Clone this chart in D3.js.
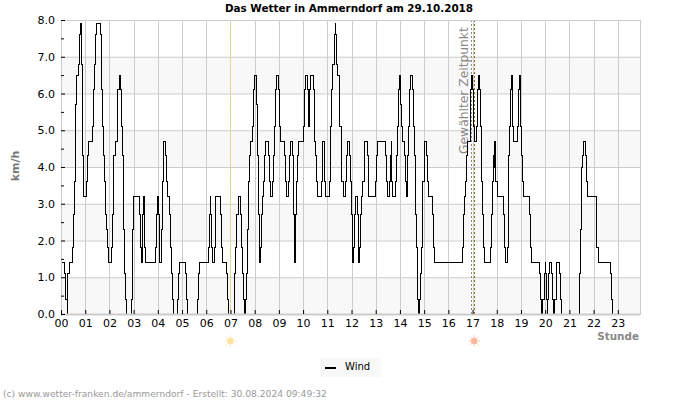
<!DOCTYPE html>
<html>
<head>
<meta charset="utf-8">
<script src="https://cdn.jsdelivr.net/npm/d3@7"></script>
<style>
  html, body { margin: 0; padding: 0; background: #fff; }
  svg { display: block; font-family: "DejaVu Sans", sans-serif; }
</style>
</head>
<body>
<svg width="700" height="400"></svg>
<script>
// change points of the wind trace: minutes since midnight, km/h
var minutes = [
  0, 9, 11, 15, 16, 17, 20, 29, 31, 34, 35, 36, 39, 44, 46, 48, 50, 51, 53, 54, 57, 64, 65, 67, 78, 80, 82, 85, 88, 98,
  100, 101, 104, 106, 109, 111, 113, 115, 118, 125, 127, 130, 131, 134, 139, 141, 144, 147, 149, 152, 154, 156, 158, 160, 162,
  175, 177, 178, 179, 195, 197, 200, 201, 203, 205, 206, 208, 210, 235, 237, 239, 241, 243, 244, 249, 252, 253, 255, 260, 262,
  265, 270, 272, 275, 277, 280, 288, 290, 293, 309, 311, 314, 338, 341, 343, 365, 367, 370, 371, 373, 375, 380, 382, 384, 395,
  398, 400, 410, 413, 415,
  429, 431, 433, 436, 439, 445, 447, 450, 452, 455, 458, 459, 462, 464, 467, 469, 474, 477, 479, 484, 487, 489, 492, 493, 495,
  497, 500, 502, 505, 508, 515, 517, 520, 525, 527, 530, 532, 535, 539, 542, 544, 554, 557, 559, 564, 567, 569, 574, 576, 577,
  578, 579, 580, 582, 584, 586, 588, 600, 603, 605, 611, 614, 617, 619, 625, 628, 630, 633, 635, 645, 648, 649, 652, 654, 656,
  665, 667, 669, 671, 674, 677, 680, 681, 683, 685, 689, 691, 694, 696, 699, 704, 707, 709, 714, 717, 719, 722, 723, 725, 728,
  730, 734, 737, 738, 740, 742, 745, 748, 751, 753, 759, 761, 763, 780, 782, 784, 804, 806, 808, 814, 817, 818, 820, 822, 828,
  831, 833, 836, 838, 840, 841, 844, 846, 851, 854, 856, 859, 861, 864, 866, 871, 874, 876, 879, 881, 883, 884, 886, 888, 890,
  893, 895, 897, 900, 902,
  906, 908, 911, 921, 923, 925, 995, 997, 1000, 1002, 1005, 1008, 1014, 1015, 1018, 1020, 1022, 1024, 1029, 1032, 1034, 1036, 1039, 1041, 1043,
  1045, 1048, 1050, 1065, 1067, 1070, 1072, 1073, 1075, 1076, 1078, 1081, 1097, 1099, 1101, 1106, 1108, 1109, 1112, 1114, 1117, 1119, 1120, 1122, 1132,
  1133, 1136, 1138, 1140, 1142, 1145, 1147, 1161, 1164, 1166, 1185, 1188, 1191, 1194, 1198, 1200, 1202, 1204, 1205, 1206, 1208, 1210, 1215, 1218, 1220,
  1224, 1227, 1229, 1235, 1237, 1240, 1284, 1286, 1288, 1291, 1293, 1295, 1300, 1302, 1305, 1326, 1328, 1331, 1361, 1364, 1366
];
var wind = [
  1.4, 1.1, 0.4, 0, 0.4, 1.1, 1.4, 1.8, 2.7, 3.6, 4.3, 5.7, 6.5, 6.8, 7.6, 7.9, 7.6, 6.8, 5.7, 4.3, 3.2, 3.6, 4.3, 4.7, 5.1, 6.1, 6.8, 7.6, 7.9, 7.6,
  6.8, 6.1, 5.1, 4.3, 3.6, 2.7, 2.3, 1.8, 1.4, 1.8, 2.7, 3.6, 4.3, 4.7, 5.1, 6.1, 6.5, 6.1, 5.1, 4.3, 3.6, 2.3, 1.1, 0.4, 0,
  0.4, 1.1, 2.3, 3.2, 2.7, 1.8, 1.4, 1.8, 2.7, 3.2, 2.7, 1.8, 1.4, 1.8, 2.7, 3.2, 2.7, 1.8, 1.4, 2.3, 3.6, 4.3, 4.7, 4.3, 3.6,
  3.2, 2.7, 1.8, 1.1, 0.4, 0, 0.4, 1.1, 1.4, 1.1, 0.4, 0, 0.4, 1.1, 1.4, 1.8, 2.7, 3.2, 2.7, 1.8, 1.4, 1.8, 2.7, 3.2, 2.7,
  1.8, 1.4, 1.1, 0.4, 0,
  0.4, 1.1, 1.8, 2.7, 3.2, 2.7, 1.8, 1.1, 0.4, 0, 0.4, 1.1, 2.3, 3.6, 4.3, 4.7, 5.1, 6.1, 6.5, 5.7, 4.3, 2.7, 1.8, 1.4, 1.8,
  2.7, 3.2, 3.6, 4.3, 4.7, 4.3, 3.6, 3.2, 3.6, 4.3, 5.1, 6.1, 6.5, 6.1, 5.1, 4.7, 4.3, 3.6, 3.2, 3.6, 4.3, 4.7, 4.3, 3.6, 2.7,
  1.8, 1.4, 1.8, 2.7, 3.6, 4.3, 4.7, 5.1, 6.1, 6.5, 6.1, 5.1, 6.1, 6.5, 6.1, 4.7, 4.3, 3.6, 3.2, 3.6, 4.3, 4.7, 4.3, 3.6, 3.2,
  3.6, 4.3, 5.1, 6.1, 6.8, 7.6, 7.9, 7.6, 6.8, 6.5, 5.7, 5.1, 4.3, 3.6, 3.2, 3.6, 4.3, 4.7, 4.3, 3.6, 2.7, 1.8, 1.4, 1.8, 2.7,
  3.2, 2.7, 1.8, 1.4, 1.8, 2.7, 3.2, 3.6, 4.3, 4.7, 4.3, 3.6, 3.2, 3.6, 4.3, 4.7, 4.3, 3.6, 3.2, 3.6, 4.3, 4.7, 3.6, 3.2, 3.6,
  4.3, 5.1, 6.1, 6.3, 6.5, 5.7, 5.1, 4.7, 4.3, 3.6, 3.2, 4.3, 5.1, 6.1, 6.5, 6.1, 5.1, 4.3, 2.7, 1.8, 1.1, 0.4, 0, 0.4, 1.1,
  1.8, 2.7, 3.6, 4.3, 4.7,
  4.3, 3.6, 3.2, 2.7, 1.8, 1.4, 1.8, 2.7, 3.2, 3.6, 4.3, 4.7, 5.1, 6.1, 6.5, 6.1, 5.1, 4.7, 5.1, 6.1, 6.5, 6.1, 5.1, 4.3, 3.6,
  2.7, 1.8, 1.4, 1.8, 2.7, 3.6, 4.3, 4.0, 4.7, 4.0, 3.6, 3.2, 2.7, 1.8, 1.4, 1.8, 3.2, 4.3, 5.1, 6.1, 6.5, 6.1, 5.1, 4.7, 5.1,
  6.1, 6.5, 6.1, 5.1, 4.3, 3.6, 3.2, 2.7, 1.8, 1.4, 1.1, 0.4, 0, 0.4, 1.1, 1.4, 1.1, 0.4, 0, 0.4, 1.1, 1.4, 1.1, 0.4, 0,
  0.4, 1.1, 1.4, 1.1, 0.4, 0, 0.4, 1.1, 2.3, 4.0, 4.3, 4.7, 4.3, 3.6, 3.2, 2.7, 1.8, 1.4, 1.1, 0.4, 0
];
var hourLabels = ['00','01','02','03','04','05','06','07','08','09','10','11','12','13','14','15','16','17','18','19','20','21','22','23'];
var yTicks = [0, 0.5, 1, 1.5, 2, 2.5, 3, 3.5, 4, 4.5, 5, 5.5, 6, 6.5, 7, 7.5, 8];
var bands = [[0, 1], [2, 3], [4, 5], [6, 7]];
var sunrise = 420, sunset = 1024, selected = 1015;

var svg = d3.select('svg');
var padding = {t: 20, r: 60, b: 86, l: 61};

var x = d3.scaleLinear().domain([0, 1435]).range([padding.l, 640]);
var y = d3.scaleLinear().domain([0, 8]).range([314, padding.t]);

// bands + grid
svg.selectAll('.band').data(bands).enter().append('rect')
    .attr('x', x(0)).attr('width', x(1435) - x(0))
    .attr('y', function (d) { return y(d[1]); })
    .attr('height', function (d) { return y(d[0]) - y(d[1]); })
    .attr('fill', '#f8f8f8');

svg.selectAll('.hgrid').data(d3.range(0, 9)).enter().append('line')
    .attr('x1', x(0)).attr('x2', x(1435))
    .attr('y1', function (d) { return y(d) + 0.5; }).attr('y2', function (d) { return y(d) + 0.5; })
    .attr('stroke', '#cccccc');

svg.selectAll('.vgrid').data(hourLabels).enter().append('line')
    .attr('x1', function (d, i) { return Math.round(x(i * 60)) + 0.5; })
    .attr('x2', function (d, i) { return Math.round(x(i * 60)) + 0.5; })
    .attr('y1', y(8)).attr('y2', y(0))
    .attr('stroke', '#cccccc');

// marker lines
svg.append('line').attr('x1', x(sunrise)).attr('x2', x(sunrise)).attr('y1', y(8)).attr('y2', y(0))
    .attr('stroke', '#f0e27a').attr('stroke-dasharray', '2,1');
svg.append('line').attr('x1', Math.round(x(selected)) + 0.5).attr('x2', Math.round(x(selected)) + 0.5).attr('y1', y(8)).attr('y2', y(0))
    .attr('stroke', '#888').attr('stroke-dasharray', '2,2');
svg.append('line').attr('x1', Math.round(x(sunset)) + 0.5).attr('x2', Math.round(x(sunset)) + 0.5).attr('y1', y(8)).attr('y2', y(0))
    .attr('stroke', '#9a6a1a').attr('stroke-dasharray', '2,2');

svg.append('text')
    .attr('transform', 'translate(' + (x(selected) - 3) + ',154) rotate(-90)')
    .attr('font-size', 12.3).attr('fill', '#888')
    .text('Gewählter Zeitpunkt');

// wind trace
var line = d3.line()
    .x(function (d) { return x(d[0]); })
    .y(function (d) { return y(d[1]); })
    .curve(d3.curveStepAfter);

svg.append('path')
    .datum(minutes.map(function (m, i) { return [m, wind[i]]; }))
    .attr('d', line)
    .attr('fill', 'none')
    .attr('stroke', '#000')
    .attr('stroke-width', 1)
    .attr('shape-rendering', 'crispEdges');

// frame sits over the trace, so zero stretches stay hidden
svg.append('rect')
    .attr('x', x(0) + 0.5).attr('y', y(8) + 0.5)
    .attr('width', x(1435) - x(0)).attr('height', y(0) - y(8))
    .attr('fill', 'none').attr('stroke', '#cccccc');
svg.append('line')
    .attr('x1', x(0)).attr('x2', x(1435)).attr('y1', y(0) + 0.5).attr('y2', y(0) + 0.5)
    .attr('stroke', '#cccccc').attr('stroke-width', 2);

// axes
var xAxis = d3.axisBottom(x)
    .tickValues(hourLabels.map(function (d, i) { return i * 60; }))
    .tickFormat(function (d, i) { return hourLabels[i]; })
    .tickSizeInner(-4).tickSizeOuter(0).tickPadding(5);
var gx = svg.append('g').attr('transform', 'translate(0,' + y(0) + ')').call(xAxis);
gx.select('.domain').remove();
gx.selectAll('text').attr('font-size', 11).attr('font-family', '"DejaVu Sans"').attr('fill', '#000');

var yAxis = d3.axisLeft(y)
    .tickValues(yTicks)
    .tickFormat(function (d) { return d % 1 === 0 ? d3.format('.1f')(d) : ''; })
    .tickSize(0).tickPadding(6);
var gy = svg.append('g').attr('transform', 'translate(' + x(0) + ',0)').call(yAxis);
gy.select('.domain').remove();
gy.selectAll('text').attr('font-size', 11).attr('font-family', '"DejaVu Sans"').attr('fill', '#000');
gy.selectAll('.tick line')
    .attr('x2', function (d) { return d % 1 === 0 ? 4 : 3; })
    .attr('stroke', '#000');

// sun icons
function sun(t, col) {
    var g = svg.append('g').attr('transform', 'translate(' + x(t) + ',341)');
    g.selectAll('line').data(d3.range(0, 8)).enter().append('line')
        .attr('x1', function (d) { return 3 * Math.cos(d * Math.PI / 4); })
        .attr('y1', function (d) { return 3 * Math.sin(d * Math.PI / 4); })
        .attr('x2', function (d) { return 6 * Math.cos(d * Math.PI / 4); })
        .attr('y2', function (d) { return 6 * Math.sin(d * Math.PI / 4); })
        .attr('stroke', col).attr('stroke-opacity', 0.7);
    g.append('circle').attr('r', 3.2).attr('fill', col);
}
sun(sunrise, '#fde3a0');
sun(sunset, '#fdb8a0');

// labels
svg.append('text').attr('x', 349).attr('y', 12).attr('text-anchor', 'middle')
    .attr('font-size', 10.4).attr('font-weight', 'bold').attr('fill', '#000')
    .text('Das Wetter in Ammerndorf am 29.10.2018');
svg.append('text')
    .attr('transform', 'translate(19,166) rotate(-90)')
    .attr('text-anchor', 'middle').attr('font-size', 11).attr('font-weight', 'bold').attr('fill', '#777')
    .text('km/h');
svg.append('text').attr('x', 639).attr('y', 339.5).attr('text-anchor', 'end')
    .attr('font-size', 10.4).attr('font-weight', 'bold').attr('fill', '#888')
    .text('Stunde');

// legend
svg.append('rect').attr('x', 320).attr('y', 358).attr('width', 61).attr('height', 19).attr('fill', '#f8f8f8');
svg.append('line').attr('x1', 325).attr('x2', 336).attr('y1', 368).attr('y2', 368)
    .attr('stroke', '#000').attr('stroke-width', 2);
svg.append('text').attr('x', 345).attr('y', 370).attr('font-size', 10).attr('fill', '#000').text('Wind');

// footer
svg.append('text').attr('x', 3).attr('y', 397).attr('font-size', 9.15).attr('fill', '#999')
    .text('(c) www.wetter-franken.de/ammerndorf - Erstellt: 30.08.2024 09:49:32');
</script>
</body>
</html>
